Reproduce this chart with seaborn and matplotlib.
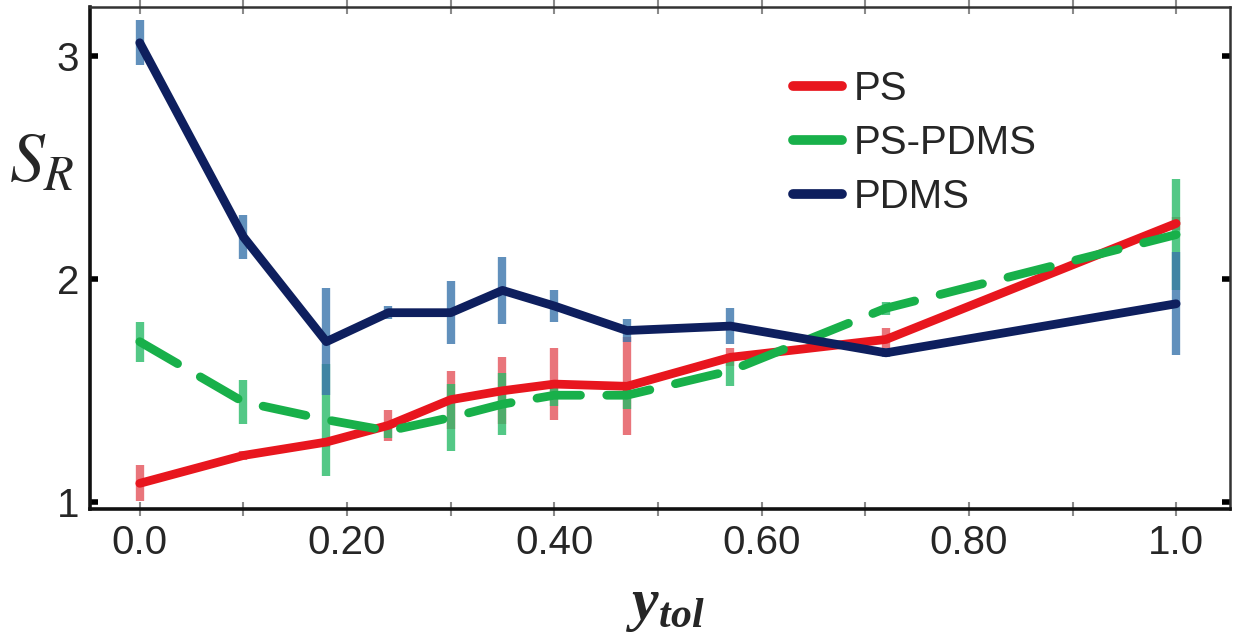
import numpy as np
import pandas as pd
import matplotlib
matplotlib.use("Agg")
import matplotlib.pyplot as plt
import seaborn as sns

# ---- data ----
y_tol = [0.0, 0.10, 0.18, 0.24, 0.30, 0.35, 0.40, 0.47, 0.57, 0.72, 1.0]
ps = [1.085, 1.21, 1.27, 1.345, 1.46, 1.50, 1.53, 1.52, 1.65, 1.73, 2.25]
ps_err = [0.08, 0.02, 0.02, 0.07, 0.13, 0.15, 0.16, 0.22, 0.04, 0.05, 0.03]
ps_pdms = [1.72, 1.45, 1.37, 1.32, 1.38, 1.44, 1.48, 1.48, 1.59, 1.87, 2.20]
ps_pdms_err = [0.09, 0.10, 0.25, 0.03, 0.15, 0.14, 0.05, 0.06, 0.07, 0.03, 0.25]
pdms = [3.06, 2.19, 1.72, 1.85, 1.85, 1.95, 1.88, 1.77, 1.79, 1.67, 1.89]
pdms_err = [0.10, 0.10, 0.24, 0.03, 0.14, 0.15, 0.07, 0.05, 0.08, 0.02, 0.23]

series = ["PS", "PS-PDMS", "PDMS"]
xticks = [0.0, 0.2, 0.4, 0.6, 0.8, 1.0]
xticklabels = ["0.0", "0.20", "0.40", "0.60", "0.80", "1.0"]
xminor = [0.1, 0.3, 0.5, 0.7, 0.9]
yticks = [1, 2, 3]

line_colors = {"PS": "#e8161e", "PS-PDMS": "#18b04a", "PDMS": "#0e1f5e"}
err_colors = {"PS": "#e4525a", "PS-PDMS": "#28bb68", "PDMS": "#3a74ab"}

df = pd.concat([
    pd.DataFrame({"y_tol": y_tol, "S_R": ps, "err": ps_err, "series": "PS"}),
    pd.DataFrame({"y_tol": y_tol, "S_R": ps_pdms, "err": ps_pdms_err, "series": "PS-PDMS"}),
    pd.DataFrame({"y_tol": y_tol, "S_R": pdms, "err": pdms_err, "series": "PDMS"}),
], ignore_index=True)

sns.set_theme(style="white")
plt.rcParams["font.family"] = ["Liberation Sans", "DejaVu Sans"]
plt.rcParams["mathtext.fontset"] = "custom"
plt.rcParams["mathtext.it"] = "Liberation Serif:italic:bold"
plt.rcParams["mathtext.rm"] = "Liberation Serif:bold"

fig = plt.figure(figsize=(12.33, 6.43), dpi=100)
ax = fig.add_axes([0.073, 0.2084, 0.9246, 0.7806])

# error bars (behind lines)
for s in series:
    sub = df[df["series"] == s]
    ax.errorbar(sub["y_tol"], sub["S_R"], yerr=sub["err"], fmt="none",
                ecolor=err_colors[s], elinewidth=6, alpha=0.8, capsize=0,
                zorder=1)

sns.lineplot(data=df, x="y_tol", y="S_R", hue="series", style="series",
             hue_order=series, style_order=series, palette=line_colors,
             dashes={"PS": "", "PS-PDMS": (5, 3), "PDMS": ""},
             linewidth=6.3, ax=ax, sort=False, zorder=3)
for ln in ax.get_lines():
    ln.set_solid_capstyle("round")
    ln.set_dash_capstyle("round")
    ln.set_solid_joinstyle("round")

ax.set_xlim(-0.048, 1.052)
ax.set_ylim(0.97, 3.22)
ax.set_xticks(xticks)
ax.set_xticklabels(xticklabels)
ax.set_xticks(xminor, minor=True)
ax.set_yticks(yticks)
ax.set_yticklabels([str(v) for v in yticks])

ax.tick_params(axis="x", which="both", bottom=True, top=True, direction="inout",
               length=10, width=1.5, color="#8a8a8a", labelsize=29, pad=6)
ax.tick_params(axis="y", which="major", left=True, right=True, direction="in",
               length=6, width=4, color="black", labelsize=29, pad=8)

for side in ["left", "bottom"]:
    ax.spines[side].set_color("#111111")
    ax.spines[side].set_linewidth(2.6)
for side in ["top", "right"]:
    ax.spines[side].set_color("#333333")
    ax.spines[side].set_linewidth(1.8)

ax.set_xlabel(r"$y_{tol}$", fontsize=43, va="top")
ax.xaxis.set_label_coords(0.505, -0.14)
ax.set_ylabel(r"$S_R$", fontsize=50, rotation=0, math_fontfamily="stix",
              va="center", ha="center")
ax.yaxis.set_label_coords(-0.042, 0.69)

handles, labels = ax.get_legend_handles_labels()
leg = ax.legend(handles, labels, loc="upper left", bbox_to_anchor=(0.617, 0.875),
                frameon=False, fontsize=29, handlelength=1.2,
                handletextpad=0.3, labelspacing=0.4, borderpad=0,
                borderaxespad=0)
for lh in leg.get_lines():
    lh.set_linewidth(7)
    lh.set_linestyle("-")
    lh.set_solid_capstyle("round")

fig.savefig("out.png", dpi=100)
